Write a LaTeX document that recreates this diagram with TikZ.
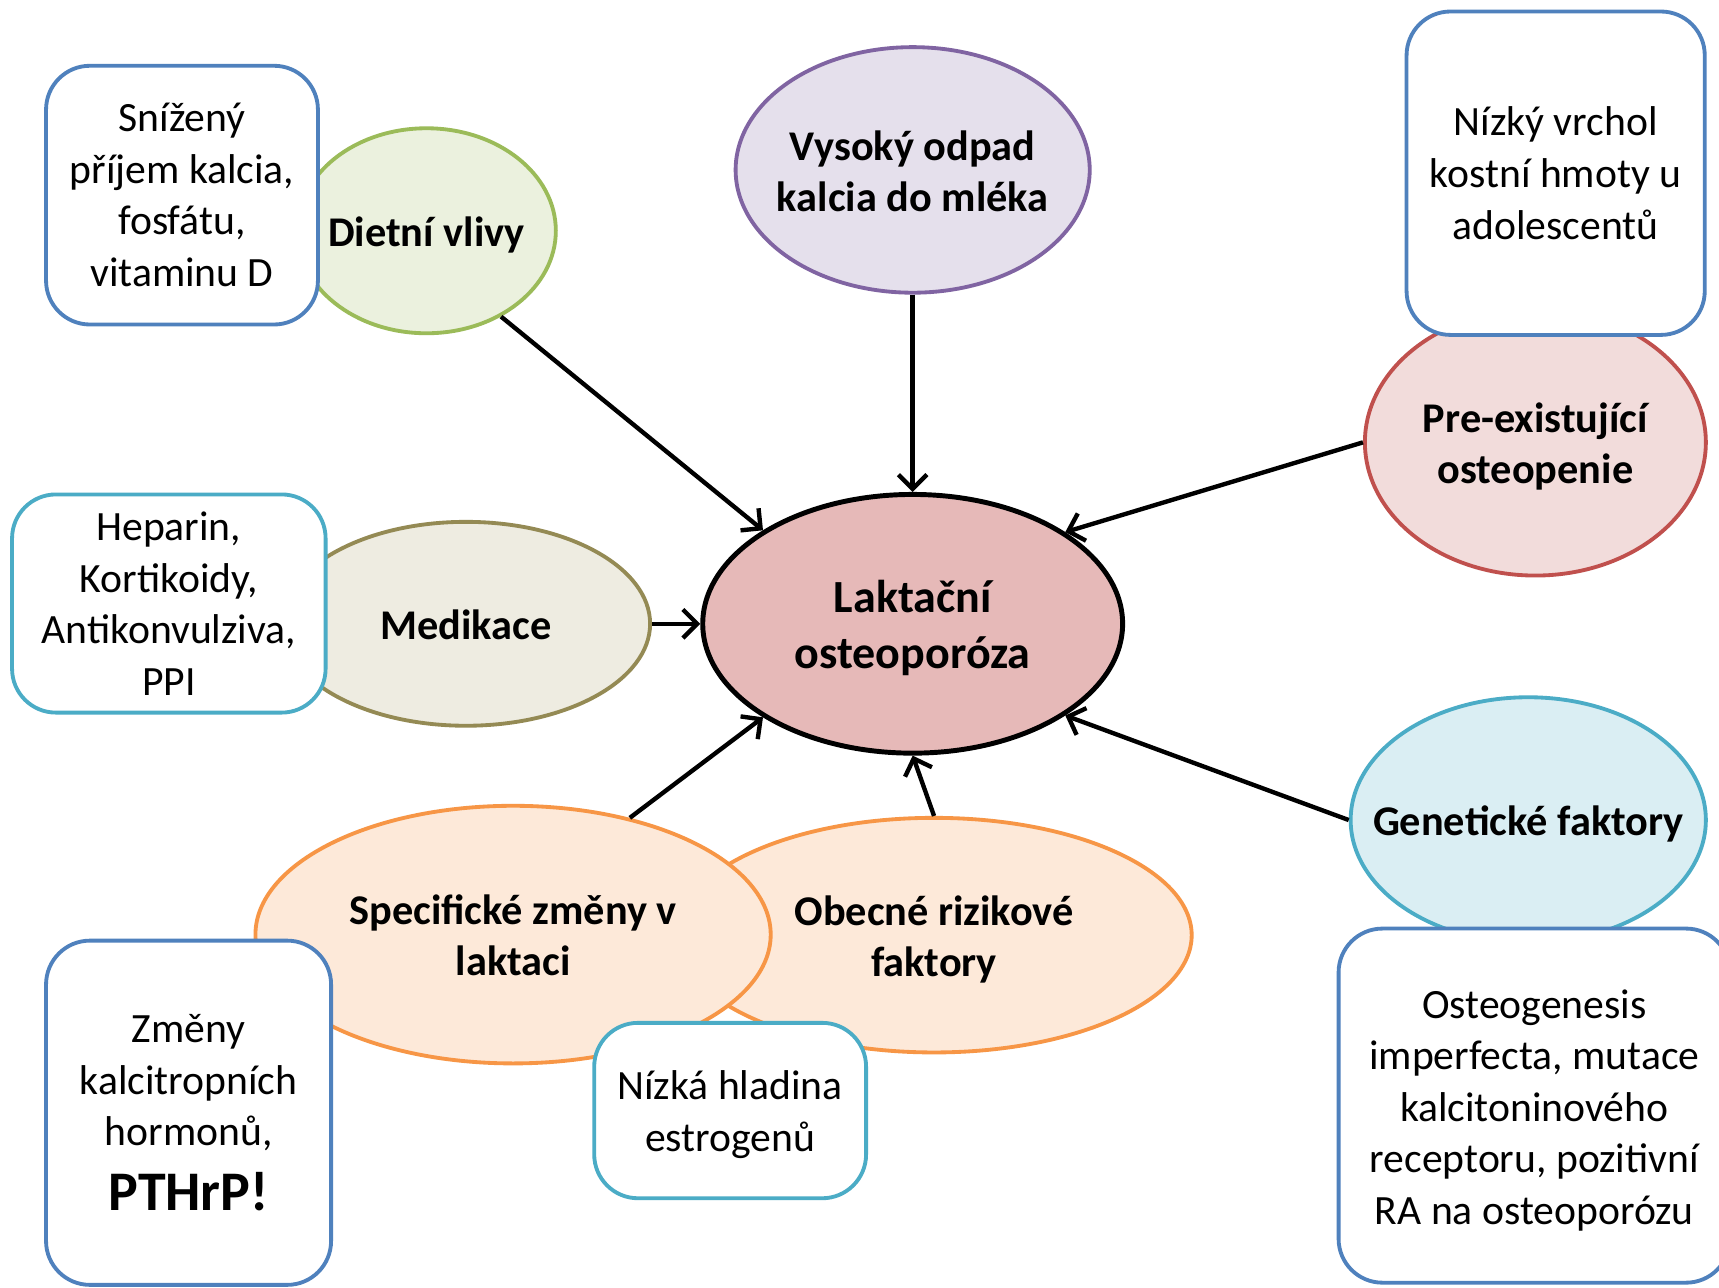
\documentclass[tikz,border=0pt]{standalone}
\usepackage{fontspec}
\setmainfont{Carlito}
\usetikzlibrary{shapes.geometric,arrows.meta}
\definecolor{blueB}{HTML}{4F81BD}
\definecolor{greenB}{HTML}{9BBB59}
\definecolor{greenF}{HTML}{EBF1DE}
\definecolor{purpleB}{HTML}{8064A2}
\definecolor{purpleF}{HTML}{E5E0EC}
\definecolor{redB}{HTML}{C0504D}
\definecolor{redF}{HTML}{F2DCDB}
\definecolor{tealB}{HTML}{4BACC6}
\definecolor{tealF}{HTML}{DAEEF3}
\definecolor{orangeB}{HTML}{F79646}
\definecolor{orangeF}{HTML}{FDE9D9}
\definecolor{oliveB}{HTML}{948A54}
\definecolor{oliveF}{HTML}{EEECE1}
\definecolor{centralF}{HTML}{E6B9B8}
% zero-width centred text block, so that the ellipse size is set by its minimum size alone
\newcommand{\ztext}[1]{\makebox[0pt]{\raisebox{-5pt}[\height][\depth]{\begin{tabular}{@{}c@{}}#1\end{tabular}}}}
% centred text block lowered by #1 without changing the node size
\newcommand{\dtext}[2]{\raisebox{-#1}[\height][\depth]{\begin{tabular}{@{}c@{}}#2\end{tabular}}}
\tikzset{
  ell/.style={ellipse, draw, line width=3.5pt, inner sep=0pt,
    font=\bfseries\fontsize{38.6}{46.5}\selectfont},
  infobox/.style={rectangle, rounded corners=40pt, fill=white, line width=3.5pt,
    inner sep=0pt, align=center, font=\fontsize{38}{47}\selectfont},
  arr/.style={line width=4pt, -{Straight Barb[length=13pt,width=26pt]}}
}
\begin{document}
\begin{tikzpicture}[x=1pt,y=1pt]
\useasboundingbox (0,0) rectangle (1568,-1174);
\clip (0,0) rectangle (1568,-1174);
\fill[white] (0,0) rectangle (1568,-1174);

% ellipses
\node[ell, draw=greenB, fill=greenF, minimum width=236pt, minimum height=187pt] (dietni) at (389,-210.5) {\ztext{Dietní vlivy}};
\node[ell, draw=oliveB, fill=oliveF, minimum width=336pt, minimum height=186pt] (med) at (425,-569) {\ztext{Medikace}};
\node[ell, draw=redB, fill=redF, minimum width=311pt, minimum height=243pt] (pre) at (1400.5,-403.5) {\ztext{Pre-existující\\osteopenie}};
\node[ell, draw=tealB, fill=tealF, minimum width=324pt, minimum height=224pt] (gen) at (1394,-748) {\ztext{Genetické faktory}};
\node[ell, draw=orangeB, fill=orangeF, minimum width=470pt, minimum height=214pt] (obec) at (852,-853) {\ztext{Obecné rizikové\\faktory}};
\node[ell, draw=orangeB, fill=orangeF, minimum width=470pt, minimum height=235pt] (spec) at (468,-852.5) {\ztext{Specifické změny v\\laktaci}};
\node[ell, draw=purpleB, fill=purpleF, minimum width=323pt, minimum height=224pt] (vys) at (832.5,-155) {\ztext{Vysoký odpad\\kalcia do mléka}};
\node[ell, draw=black, fill=centralF, line width=4.5pt, minimum width=383pt, minimum height=236pt,
  font=\bfseries\fontsize{42}{51}\selectfont] (lakt) at (832.5,-569) {\ztext{Laktační\\osteoporóza}};

% boxes
\node[infobox, draw=blueB, minimum width=248pt, minimum height=236pt] (snizeny) at (166,-178) {Snížený\\příjem kalcia,\\fosfátu,\\vitaminu D};
\node[infobox, draw=blueB, minimum width=272pt, minimum height=295pt] (nizky) at (1419,-158) {Nízký vrchol\\kostní hmoty u\\adolescentů};
\node[infobox, draw=tealB, minimum width=286pt, minimum height=199pt] (heparin) at (154,-550.5) {Heparin,\\Kortikoidy,\\Antikonvulziva,\\PPI};
\node[infobox, draw=blueB, minimum width=260pt, minimum height=314pt] (zmeny) at (172,-1015) {Změny\\kalcitropních\\hormonů,\\[12pt]{\bfseries\fontsize{51}{47}\selectfont PTHrP!}};
\node[infobox, draw=tealB, minimum width=248pt, minimum height=160pt] (estrogen) at (666,-1013) {\dtext{4pt}{Nízká hladina\\estrogenů}};
\node[infobox, draw=blueB, minimum width=357pt, minimum height=323pt] (osteo) at (1399.5,-1008.5) {\dtext{5pt}{Osteogenesis\\imperfecta, mutace\\kalcitoninového\\receptoru, pozitivní\\RA na osteoporózu}};

% arrows
\draw[arr] (dietni.-49) -- (lakt.148);
\draw[arr] (vys.south) -- (lakt.north);
\draw[arr] (pre.west) -- (lakt.31);
\draw[arr] (med.east) -- (lakt.west);
\draw[arr] (spec.45) -- (lakt.212);
\draw[arr] (obec.north) -- (lakt.south);
\draw[arr] (gen.west) -- (lakt.-31);
\end{tikzpicture}
\end{document}
